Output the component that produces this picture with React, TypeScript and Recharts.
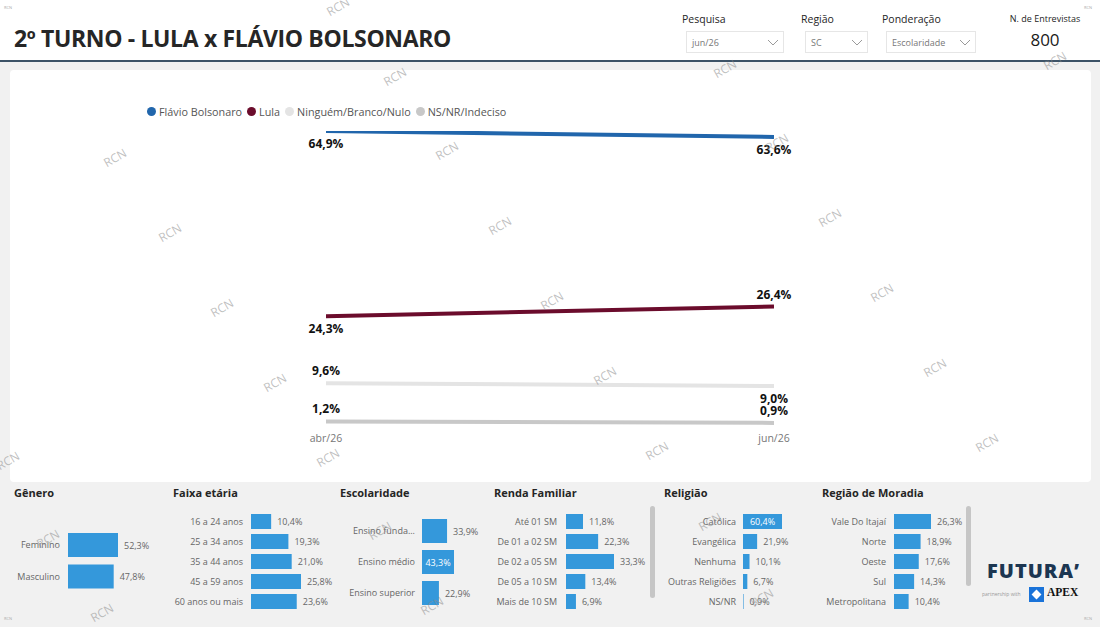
import React from 'react';
import { LineChart, Line, XAxis, YAxis, BarChart, Bar, LabelList } from 'recharts';

// ---------- DATA ----------
const periods = ['abr/26', 'jun/26'];
const flavio = [64.9, 63.6];
const lula = [24.3, 26.4];
const ninguem = [9.6, 9.0];
const nsnr = [1.2, 0.9];

const seriesNames = ['Flávio Bolsonaro', 'Lula', 'Ninguém/Branco/Nulo', 'NS/NR/Indeciso'];

const generoCats = ['Feminino', 'Masculino'];
const generoVals = [52.3, 47.8];
const idadeCats = ['16 a 24 anos', '25 a 34 anos', '35 a 44 anos', '45 a 59 anos', '60 anos ou mais'];
const idadeVals = [10.4, 19.3, 21.0, 25.8, 23.6];
const escolaridadeCats = ['Ensino fundamental', 'Ensino médio', 'Ensino superior'];
const escolaridadeVals = [33.9, 43.3, 22.9];
const rendaCats = ['Até 01 SM', 'De 01 a 02 SM', 'De 02 a 05 SM', 'De 05 a 10 SM', 'Mais de 10 SM'];
const rendaVals = [11.8, 22.3, 33.3, 13.4, 6.9];
const religiaoCats = ['Católica', 'Evangélica', 'Nenhuma', 'Outras Religiões', 'NS/NR'];
const religiaoVals = [60.4, 21.9, 10.1, 6.7, 0.9];
const regiaoCats = ['Vale Do Itajaí', 'Norte', 'Oeste', 'Sul', 'Metropolitana'];
const regiaoVals = [26.3, 18.9, 17.6, 14.3, 10.4];

const nEntrevistas = 800;

// ---------- STYLE ----------
const FONT = '"Open Sans", "Noto Sans", sans-serif';
const BAR_COLOR = '#3498db';
const lineColors = ['#2166ac', '#6b0c2c', '#e4e4e4', '#c8c8c8'];
const lineKeys = ['flavio', 'lula', 'ninguem', 'nsnr'];
const labelOffsets = [
  [12, 12.5],
  [12.5, -12],
  [-12.7, 12.7],
  [-13.5, -12],
];

const watermarks: [number, number][] = [
  [338, 6], [395, 76], [725, 68], [1055, 60],
  [115, 157], [447, 150], [777, 142],
  [170, 232], [500, 225], [830, 217],
  [222, 307], [552, 300], [882, 292],
  [275, 382], [605, 375], [935, 367],
  [8, 460], [328, 457], [657, 450], [987, 442],
  [48, 538], [380, 530], [710, 521],
  [102, 612], [432, 605], [762, 597],
];

const fmt = (v: number) => v.toFixed(1).replace('.', ',') + '%';

const lineData = periods.map((p, i) => ({
  period: p,
  flavio: flavio[i],
  lula: lula[i],
  ninguem: ninguem[i],
  nsnr: nsnr[i],
}));
const yMax = Math.max(...flavio, ...lula, ...ninguem, ...nsnr);

const makeLineLabel = (offsets: number[]) => (props: any) => {
  const { x, y, value, index } = props;
  if (x == null || y == null) return null;
  return (
    <text
      x={x}
      y={y + offsets[index]}
      textAnchor="middle"
      dominantBaseline="central"
      fontSize={12}
      fontWeight={700}
      fill="#111"
      fontFamily={FONT}
    >
      {fmt(Number(value))}
    </text>
  );
};

const truncate = (s: string) => (s.length > 17 ? s.slice(0, 12) + '...' : s);

const CatTick = (props: any) => {
  const { x, y, payload } = props;
  return (
    <text x={x} y={y} textAnchor="end" dominantBaseline="central" fontSize={9} fill="#666" fontFamily={FONT}>
      {truncate(String(payload.value))}
    </text>
  );
};

type PanelProps = {
  title: string;
  titleX: number;
  cats: string[];
  vals: number[];
  plotStart: number;
  maxLen: number;
  plotTop: number;
  rowH: number;
  barSize: number;
  yW: number;
  tickMargin: number;
  inside?: number[];
};

function Panel(p: PanelProps) {
  const data = p.cats.map((c, i) => ({ cat: c, value: p.vals[i] }));
  const vmax = Math.max(...p.vals);
  const height = p.cats.length * p.rowH;
  const rightM = 45;
  const width = p.yW + p.maxLen + rightM;
  const inside = p.inside || [];
  const renderValue = (props: any) => {
    const { x, y, width: w, height: h, value, index } = props;
    const isIn = inside.includes(index);
    return (
      <text
        x={isIn ? x + w / 2 : x + w + 6}
        y={y + h / 2}
        textAnchor={isIn ? 'middle' : 'start'}
        dominantBaseline="central"
        fontSize={9}
        fill={isIn ? '#ffffff' : '#666'}
        fontFamily={FONT}
      >
        {fmt(Number(value))}
      </text>
    );
  };
  return (
    <>
      <div
        style={{
          position: 'absolute',
          left: p.titleX,
          top: 485,
          fontSize: 11,
          fontWeight: 700,
          color: '#252525',
          fontFamily: FONT,
          whiteSpace: 'nowrap',
        }}
      >
        {p.title}
      </div>
      <div style={{ position: 'absolute', left: p.plotStart - p.yW, top: p.plotTop }}>
        <BarChart
          width={width}
          height={height}
          data={data}
          layout="vertical"
          margin={{ top: 0, right: rightM, bottom: 0, left: 0 }}
        >
          <XAxis type="number" hide domain={[0, vmax]} allowDataOverflow />
          <YAxis
            type="category"
            dataKey="cat"
            width={p.yW}
            axisLine={false}
            tickLine={false}
            tickSize={0}
            tickMargin={p.tickMargin}
            interval={0}
            tick={<CatTick />}
          />
          <Bar dataKey="value" fill={BAR_COLOR} barSize={p.barSize} isAnimationActive={false}>
            <LabelList dataKey="value" content={renderValue} />
          </Bar>
        </BarChart>
      </div>
    </>
  );
}

function Chevron({ x, y }: { x: number; y: number }) {
  return (
    <svg style={{ position: 'absolute', left: x, top: y }} width={12} height={8}>
      <polyline points="1,1 6,6 11,1" fill="none" stroke="#9a9a9a" strokeWidth={1} />
    </svg>
  );
}

function Dropdown({ label, value, lx, bx, bw }: { label: string; value: string; lx: number; bx: number; bw: number }) {
  return (
    <>
      <div style={{ position: 'absolute', left: lx, top: 12, fontSize: 10.5, color: '#252525', fontFamily: FONT }}>{label}</div>
      <div
        style={{
          position: 'absolute',
          left: bx,
          top: 31,
          width: bw,
          height: 22,
          border: '1px solid #e6e6e6',
          boxSizing: 'border-box',
          background: '#fff',
        }}
      />
      <div style={{ position: 'absolute', left: bx + 6, top: 36, fontSize: 9, color: '#777', fontFamily: FONT }}>{value}</div>
      <Chevron x={bx + bw - 17} y={39} />
    </>
  );
}

export default function App() {
  return (
    <div
      style={{
        position: 'absolute',
        left: 0,
        top: 0,
        width: 1100,
        height: 627,
        background: '#f1f1f1',
        overflow: 'hidden',
        fontFamily: FONT,
      }}
    >
      {/* header */}
      <div style={{ position: 'absolute', left: 0, top: 0, width: 1100, height: 60, background: '#fff' }} />
      <div style={{ position: 'absolute', left: 0, top: 60, width: 1100, height: 2, background: '#3d5367' }} />
      <div
        style={{
          position: 'absolute',
          left: 14,
          top: 22,
          fontSize: 23,
          fontWeight: 700,
          color: '#262626',
          fontFamily: FONT,
          whiteSpace: 'nowrap',
          letterSpacing: -0.35,
        }}
      >
        2º TURNO - LULA x FLÁVIO BOLSONARO
      </div>
      <Dropdown label="Pesquisa" value="jun/26" lx={682} bx={686} bw={98} />
      <Dropdown label="Região" value="SC" lx={801} bx={805} bw={63} />
      <Dropdown label="Ponderação" value="Escolaridade" lx={882} bx={886} bw={90} />
      <div style={{ position: 'absolute', left: 1000, width: 90, top: 12, fontSize: 9, color: '#252525', textAlign: 'center', fontFamily: FONT }}>
        N. de Entrevistas
      </div>
      <div style={{ position: 'absolute', left: 1000, width: 90, top: 28, fontSize: 17, color: '#1a1a1a', textAlign: 'center', fontFamily: FONT }}>
        {nEntrevistas}
      </div>

      {/* main card */}
      <div style={{ position: 'absolute', left: 10, top: 70, width: 1081, height: 412, background: '#fff', borderRadius: 4 }} />

      {/* legend */}
      <div style={{ position: 'absolute', left: 147, top: 104, display: 'flex', alignItems: 'center', fontSize: 10.8, color: '#555', fontFamily: FONT, whiteSpace: 'nowrap' }}>
        {seriesNames.map((n, i) => (
          <div key={n} style={{ display: 'flex', alignItems: 'center', marginRight: 5 }}>
            <span style={{ display: 'inline-block', width: 9, height: 9, borderRadius: 5, background: lineColors[i], marginRight: 3 }} />
            <span>{n}</span>
          </div>
        ))}
      </div>

      <div style={{ position: 'absolute', left: 0, top: 0 }}>
        <LineChart width={1100} height={460} data={lineData} margin={{ top: 131, right: 326, bottom: 3, left: 326 }}>
          <XAxis
            dataKey="period"
            axisLine={false}
            tickLine={false}
            height={30}
            interval={0}
            tick={{ fontSize: 10.5, fill: '#777', fontFamily: FONT }}
          />
          <YAxis hide domain={[0, yMax]} allowDataOverflow />
          {lineKeys.map((k, i) => (
            <Line
              key={k}
              dataKey={k}
              stroke={lineColors[i]}
              strokeWidth={4}
              dot={false}
              activeDot={false}
              isAnimationActive={false}
            >
              <LabelList dataKey={k} content={makeLineLabel(labelOffsets[i])} />
            </Line>
          ))}
        </LineChart>
      </div>

      {/* bottom panels */}
      <Panel title="Gênero" titleX={14} cats={generoCats} vals={generoVals} plotStart={68} maxLen={50} plotTop={529} rowH={31.5} barSize={24} yW={68} tickMargin={8} />
      <Panel title="Faixa etária" titleX={173} cats={idadeCats} vals={idadeVals} plotStart={251} maxLen={50} plotTop={510.5} rowH={20} barSize={15} yW={90} tickMargin={8} />
      <Panel title="Escolaridade" titleX={340} cats={escolaridadeCats} vals={escolaridadeVals} plotStart={422} maxLen={32} plotTop={514.5} rowH={31} barSize={24} yW={82} tickMargin={7} inside={[1]} />
      <Panel title="Renda Familiar" titleX={494} cats={rendaCats} vals={rendaVals} plotStart={566} maxLen={48} plotTop={510.5} rowH={20} barSize={15} yW={75} tickMargin={9} />
      <Panel title="Religião" titleX={664} cats={religiaoCats} vals={religiaoVals} plotStart={743} maxLen={39} plotTop={511} rowH={20} barSize={15} yW={85} tickMargin={7} inside={[0]} />
      <Panel title="Região de Moradia" titleX={822} cats={regiaoCats} vals={regiaoVals} plotStart={894} maxLen={37} plotTop={510.5} rowH={20} barSize={15} yW={80} tickMargin={8} />

      {/* scrollbars */}
      <div style={{ position: 'absolute', left: 650, top: 506, width: 5, height: 92, background: '#c6c6c6', borderRadius: 3 }} />
      <div style={{ position: 'absolute', left: 966, top: 506, width: 5, height: 80, background: '#c6c6c6', borderRadius: 3 }} />

      {/* logo */}
      <div style={{ position: 'absolute', left: 987, top: 557, fontSize: 20, fontWeight: 800, color: '#1c3651', letterSpacing: 1, fontFamily: FONT }}>
        FUTURA’
      </div>
      <div style={{ position: 'absolute', left: 982, top: 591, fontSize: 5, color: '#999', fontFamily: FONT }}>partnership with</div>
      <div style={{ position: 'absolute', left: 1029, top: 587, width: 15, height: 15, background: '#1a73d9' }}>
        <div style={{ position: 'absolute', left: 4, top: 4, width: 7, height: 7, background: '#fff', transform: 'rotate(45deg)' }} />
      </div>
      <div style={{ position: 'absolute', left: 1047, top: 586, fontSize: 11.5, fontWeight: 700, color: '#111', fontFamily: '"Liberation Serif", serif' }}>APEX</div>

      {/* tiny corner marks */}
      {[[4, 5], [1084, 5], [4, 616], [1084, 616]].map(([x, y], i) => (
        <div key={i} style={{ position: 'absolute', left: x, top: y, fontSize: 4, color: '#aaa' }}>RCN</div>
      ))}

      {/* watermarks */}
      {watermarks.map(([x, y], i) => (
        <div
          key={i}
          style={{
            position: 'absolute',
            left: x - 15,
            top: y - 8,
            width: 30,
            textAlign: 'center',
            fontSize: 12,
            color: 'rgba(140,140,140,0.55)',
            transform: 'rotate(-30deg)',
            pointerEvents: 'none',
            fontFamily: FONT,
          }}
        >
          RCN
        </div>
      ))}
    </div>
  );
}
